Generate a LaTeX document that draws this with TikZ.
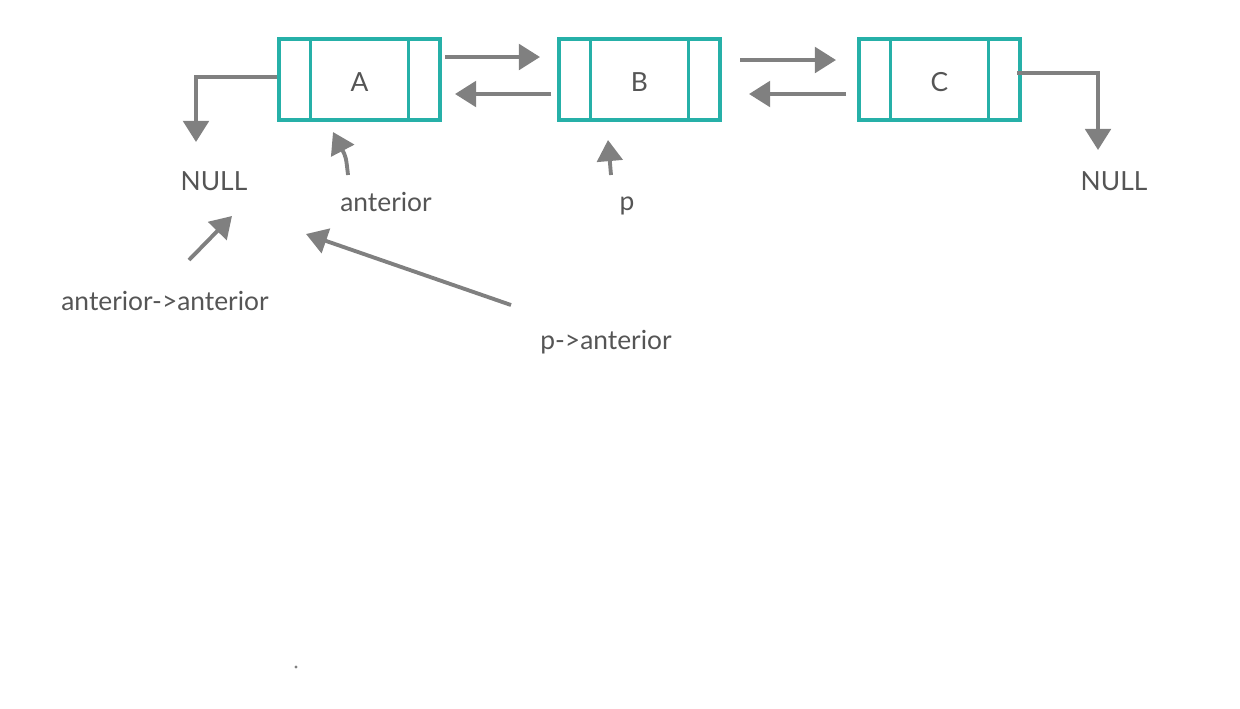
\documentclass[tikz,border=0pt]{standalone}
\usepackage{fontspec}
\setmainfont{Lato}
\usetikzlibrary{arrows.meta}
\definecolor{boxteal}{RGB}{38,176,168}
\definecolor{arrgray}{RGB}{128,128,128}
\definecolor{txtgray}{RGB}{85,85,85}

\begin{document}
\begin{tikzpicture}[
  x=0.02cm, y=-0.02cm,
  >={Triangle[length=12pt, width=14.5pt]},
  edge/.style={->, line width=2.2pt, arrgray},
  cell/.style={draw=boxteal, line width=1.9pt, minimum width=3.22cm, minimum height=1.62cm, inner sep=0pt, text=txtgray, font=\fontsize{15}{17}\selectfont},
  bar/.style={boxteal, line width=1.9pt},
  lbl/.style={text=txtgray, font=\fontsize{15}{17}\selectfont}
]
  \useasboundingbox (0,0) rectangle (1240,708);

  % nodes
  \foreach \n/\x/\t in {a/359.5/A, b/639.5/B, c/939.5/C} {
    \node[cell] (\n) at (\x,79.5) {\raisebox{-1.7pt}[\height][\depth]{\t}};
    \draw[bar] ([xshift=0.66cm]\n.north west) -- ([xshift=0.66cm]\n.south west);
    \draw[bar] ([xshift=-0.66cm]\n.north east) -- ([xshift=-0.66cm]\n.south east);
  }
  \node[lbl] (null1) at (214,181) {NULL};
  \node[lbl] (null2) at (1114,181) {NULL};
  \node[lbl] (ant) at (386,202) {anterior};
  \node[lbl] (p) at (627,206) {p};
  \node[lbl] (antant) at (165,301) {anterior->anterior};
  \node[lbl] (pant) at (606,342) {p->anterior};

  % free ends
  \coordinate (ab1) at (445,57);  \coordinate (ab2) at (540,57);
  \coordinate (ba1) at (551,94);  \coordinate (ba2) at (455,94);
  \coordinate (bc1) at (740,60);  \coordinate (bc2) at (836,60);
  \coordinate (cb1) at (846,94);  \coordinate (cb2) at (749,94);
  \coordinate (la) at (277,77);   \coordinate (lb) at (196,77);   \coordinate (lc) at (196,142);
  \coordinate (rc) at (1017,73);  \coordinate (rd) at (1098,73);  \coordinate (re) at (1098,150);
  \coordinate (t1) at (348,175);  \coordinate (h1) at (333,132);
  \coordinate (t2) at (611,175);  \coordinate (h2) at (608,140);
  \coordinate (t3) at (189,260);  \coordinate (h3) at (232,216);
  \coordinate (t4) at (511,305);  \coordinate (h4) at (306,234);

  % edges
  \draw[edge] (ab1) -- (ab2);
  \draw[edge] (ba1) -- (ba2);
  \draw[edge] (bc1) -- (bc2);
  \draw[edge] (cb1) -- (cb2);
  \draw[edge] (la) -- (lb) -- (lc);
  \draw[edge] (rc) -- (rd) -- (re);
  \draw[edge] (t1) .. controls (346,157) .. (h1);
  \draw[edge] (t2) -- (h2);
  \draw[edge] (t3) -- (h3);
  \draw[edge] (t4) -- (h4);

  \fill[arrgray] (296,667) circle (1.6);
\end{tikzpicture}
\end{document}
